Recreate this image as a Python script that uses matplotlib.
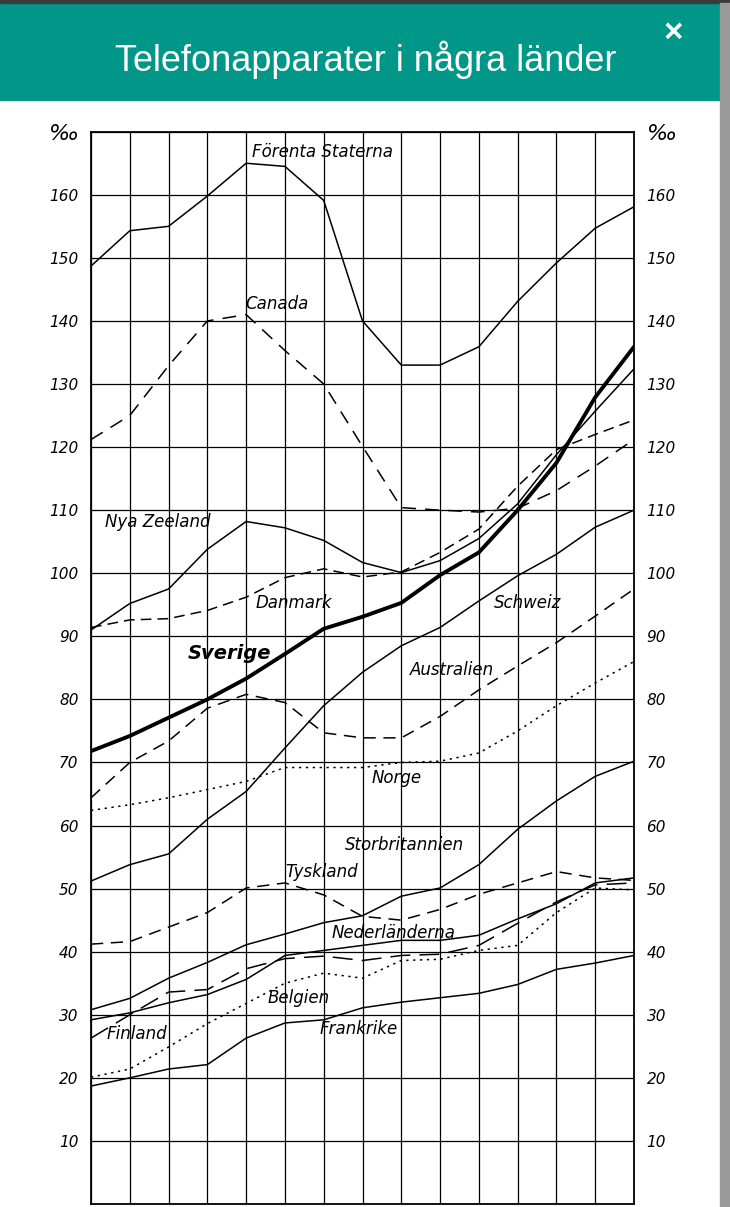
import numpy as np
import matplotlib
matplotlib.use("Agg")
import matplotlib.pyplot as plt
from matplotlib.patches import Rectangle

# telefonapparater per 1000 invånare, 15 mätpunkter (läst ur diagrammet)
punkter = np.arange(15)

forenta_staterna = [148.7, 154.3, 155.0, 159.8, 165.0, 164.5, 159.1, 140.0, 133.0, 133.0, 135.9, 143.1, 149.2, 154.7, 158.1]
canada = [121.2, 125.0, 132.9, 140.0, 141.0, 135.3, 130.0, 120.1, 110.4, 110.0, 109.7, 110.3, 113.1, 117.0, 121.2]
nya_zeeland = [91.0, 95.2, 97.5, 103.8, 108.2, 107.2, 105.2, 101.7, 100.1, 102.0, 105.5, 111.0, 118.8, 125.7, 132.4]
danmark = [91.4, 92.6, 92.8, 94.1, 96.2, 99.3, 100.7, 99.4, 100.2, 103.3, 107.0, 113.8, 119.6, 122.0, 124.3]
sverige = [71.8, 74.2, 77.1, 80.0, 83.3, 87.2, 91.2, 93.1, 95.3, 99.7, 103.3, 110.0, 117.5, 127.9, 135.9]
schweiz = [51.2, 53.8, 55.5, 61.0, 65.4, 72.3, 79.0, 84.3, 88.5, 91.4, 95.6, 99.6, 103.0, 107.3, 110.0]
australien = [64.4, 70.0, 73.4, 78.6, 80.8, 79.5, 74.7, 73.9, 73.9, 77.3, 81.5, 85.3, 89.0, 93.2, 97.5]
norge = [62.4, 63.3, 64.4, 65.7, 67.0, 69.2, 69.2, 69.2, 70.0, 70.2, 71.5, 75.0, 79.0, 82.6, 86.0]
storbritannien = [30.8, 32.6, 35.8, 38.3, 41.1, 42.8, 44.6, 45.7, 48.8, 50.1, 53.8, 59.4, 63.9, 67.8, 70.2]
tyskland = [41.2, 41.6, 43.9, 46.2, 50.1, 50.9, 49.0, 45.6, 45.0, 46.7, 49.1, 50.9, 52.7, 51.7, 51.3]
nederlanderna = [29.2, 30.3, 31.9, 33.2, 35.6, 39.4, 40.2, 41.0, 41.8, 41.8, 42.6, 45.2, 47.6, 50.9, 51.7]
finland = [26.3, 30.0, 33.6, 34.0, 37.3, 38.9, 39.3, 38.6, 39.4, 39.6, 41.0, 44.5, 47.9, 50.6, 50.9]
belgien = [20.1, 21.4, 24.9, 28.6, 31.8, 35.0, 36.6, 35.8, 38.6, 38.8, 40.2, 41.0, 46.2, 50.1, 49.8]
frankrike = [18.7, 20.0, 21.4, 22.1, 26.3, 28.7, 29.2, 31.1, 32.0, 32.7, 33.4, 34.8, 37.2, 38.2, 39.4]

y_ticks = list(range(0, 171, 10))
y_labels = [""] + [str(v) for v in range(10, 161, 10)] + ["\u2030"]

titel = "Telefonapparater i några länder"

W, H = 730, 1207
fig = plt.figure(figsize=(W / 100, H / 100), dpi=100)

# header bar like the web popup
fig.patches.append(Rectangle((0, 1 - 100 / H), 720 / W, 97 / H, transform=fig.transFigure,
                             color="#009688", zorder=0))
fig.patches.append(Rectangle((0, 1 - 3 / H), 1, 3 / H, transform=fig.transFigure,
                             color="#3a3a3a", zorder=0))
fig.patches.append(Rectangle((720 / W, 0), 10 / W, 1 - 3 / H, transform=fig.transFigure,
                             color="#9a9a9a", zorder=0))
fig.text(366 / W, 1 - 60 / H, titel, ha="center", va="center", color="white",
         fontsize=26, family="Liberation Sans")
fig.text(673 / W, 1 - 33 / H, "\u00d7", ha="center", va="center", color="white",
         fontsize=24, fontweight="bold", family="Liberation Sans")

ax = fig.add_axes([91 / W, 1 - 1204 / H, (634 - 91) / W, (1204 - 131.7) / H])
ax.set_xlim(0, 14)
ax.set_ylim(0, 170)
ax.set_xticks(punkter)
ax.set_yticks(y_ticks)
ax.set_yticklabels(y_labels, fontstyle="italic", fontsize=11)
ax.tick_params(axis="x", length=0, labelbottom=False)
ax.tick_params(axis="y", length=0, pad=9, labelleft=True, labelright=True)
# promille sign on top is drawn bigger
top = ax.yaxis.get_major_ticks()[-1]
top.label1.set_fontsize(16)
top.label2.set_fontsize(16)
ax.grid(True, color="black", lw=0.9)
ax.set_axisbelow(True)
for s in ax.spines.values():
    s.set_linewidth(1.3)

thin = 1.1
ax.plot(punkter, forenta_staterna, color="black", lw=thin)
ax.plot(punkter, canada, color="black", lw=thin, dashes=(9, 6))
ax.plot(punkter, nya_zeeland, color="black", lw=thin)
ax.plot(punkter, danmark, color="black", lw=thin, dashes=(7, 4))
ax.plot(punkter, sverige, color="black", lw=2.8)
ax.plot(punkter, schweiz, color="black", lw=thin)
ax.plot(punkter, australien, color="black", lw=thin, dashes=(8, 5))
ax.plot(punkter, norge, color="black", lw=thin, dashes=(1.5, 3))
ax.plot(punkter, storbritannien, color="black", lw=thin)
ax.plot(punkter, tyskland, color="black", lw=thin, dashes=(8, 5))
ax.plot(punkter, nederlanderna, color="black", lw=thin)
ax.plot(punkter, finland, color="black", lw=thin, dashes=(13, 6))
ax.plot(punkter, belgien, color="black", lw=thin, dashes=(1.5, 3))
ax.plot(punkter, frankrike, color="black", lw=thin)

# country names, handwritten-ish italic
namn = [
    ("Förenta Staterna", 4.15, 166.8),
    ("Canada", 3.97, 142.7),
    ("Nya Zeeland", 0.36, 108.1),
    ("Danmark", 4.23, 95.3),
    ("Schweiz", 10.39, 95.3),
    ("Australien", 8.22, 84.7),
    ("Norge", 7.24, 67.5),
    ("Storbritannien", 6.55, 56.9),
    ("Tyskland", 5.0, 52.6),
    ("Nederländerna", 6.21, 43.0),
    ("Belgien", 4.56, 32.7),
    ("Finland", 0.41, 26.9),
    ("Frankrike", 5.9, 27.7),
]
for txt, xx, yy in namn:
    ax.text(xx, yy, txt, fontsize=12, fontstyle="italic", ha="left", va="center")
ax.text(2.5, 87.3, "Sverige", fontsize=14, fontstyle="italic", fontweight="bold",
        ha="left", va="center")

fig.savefig("out.png", dpi=100, facecolor="white")
